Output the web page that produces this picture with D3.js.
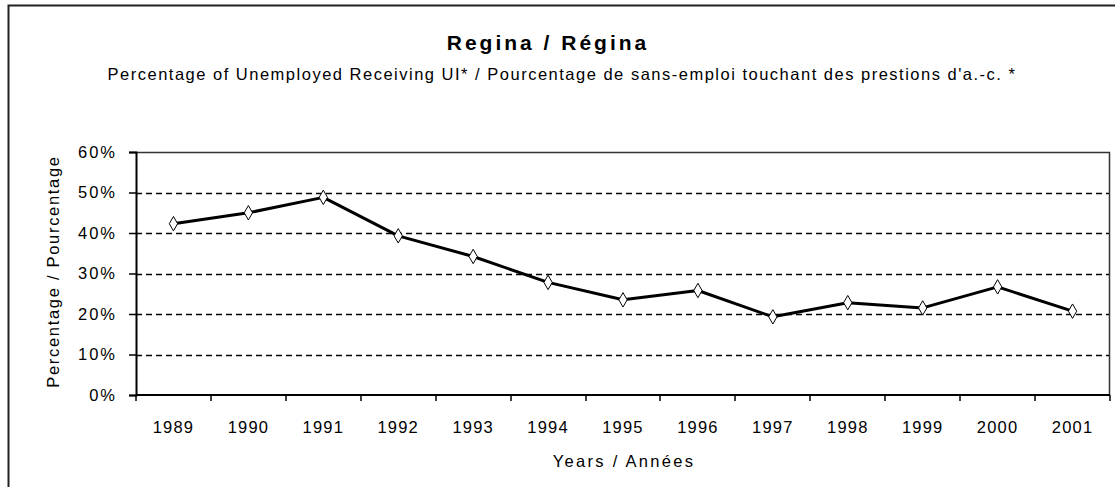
<!DOCTYPE html>
<html><head><meta charset="utf-8">
<script src="https://cdn.jsdelivr.net/npm/d3@7"></script>
<style>body{margin:0;background:#fff;} svg{display:block;font-family:Arial,"Liberation Sans",sans-serif;}</style>
</head><body>
<svg id="c" width="1115" height="487"></svg>
<script>
const years = ["1989","1990","1991","1992","1993","1994","1995","1996","1997","1998","1999","2000","2001"];
const values = [42.3, 45.0, 48.8, 39.3, 34.2, 27.8, 23.5, 25.8, 19.3, 22.8, 21.5, 26.7, 20.7];
const yTicks = [0, 10, 20, 30, 40, 50, 60];
const titleText = "Regina / Régina";
const subtitleText = "Percentage of Unemployed Receiving UI* / Pourcentage de sans-emploi touchant des prestions d'a.-c. *";
const yTitle = "Percentage / Pourcentage";
const xTitle = "Years / Années";

const svg = d3.select("#c");
const m = {left:136, right:1110, top:152, bottom:395};
const FS = 16.5;

// outer frame
svg.append("path").attr("d","M8.5,487 V5.5 H1115").attr("fill","none").attr("stroke","#222").attr("stroke-width",2);

const x = d3.scaleBand().domain(years).range([m.left, m.right]);
const y = d3.scaleLinear().domain([0,60]).range([m.bottom, m.top]);

// gridlines
svg.append("g").selectAll("line").data(yTicks.filter(t=>t>0 && t<60)).join("line")
  .attr("x1", m.left).attr("x2", m.right)
  .attr("y1", d=>Math.round(y(d))+0.5).attr("y2", d=>Math.round(y(d))+0.5)
  .attr("stroke","#000").attr("stroke-width",1.3).attr("stroke-dasharray","6,4");

// plot border (top and right)
svg.append("path").attr("d",`M${m.left},${m.top+0.5} H${m.right-0.5} V${m.bottom}`)
  .attr("fill","none").attr("stroke","#333").attr("stroke-width",1.5);

// y axis
const yAxis = d3.axisLeft(y).tickValues(yTicks).tickFormat(d=>d+"%").tickSize(7).tickPadding(12);
const gy = svg.append("g").attr("transform",`translate(${m.left},0)`).call(yAxis);
gy.select(".domain").attr("stroke","#000").attr("stroke-width",2);
gy.selectAll(".tick line").attr("stroke","#000").attr("stroke-width",1.5);
gy.selectAll("text").attr("font-size",FS).attr("fill","#000").attr("letter-spacing","2px");

// x axis with ticks between categories
const gx = svg.append("g").attr("transform",`translate(0,${m.bottom})`);
gx.append("line").attr("x1",m.left).attr("x2",m.right).attr("y1",0).attr("y2",0).attr("stroke","#000").attr("stroke-width",2);
const bounds = years.map(yr=>x(yr)).concat([m.right]);
gx.selectAll("line.tk").data(bounds).join("line").attr("class","tk")
  .attr("x1",d=>Math.round(d)).attr("x2",d=>Math.round(d)).attr("y1",0).attr("y2",6)
  .attr("stroke","#000").attr("stroke-width",1.5);
gx.selectAll("text").data(years).join("text")
  .attr("x",d=>x(d)+x.bandwidth()/2).attr("y",38).attr("text-anchor","middle")
  .attr("font-size",FS).attr("letter-spacing","1.2px").attr("fill","#000").text(d=>d);

// line
const cx = d=>x(d)+x.bandwidth()/2;
const line = d3.line().x((d,i)=>cx(years[i])).y(d=>y(d));
svg.append("path").datum(values).attr("d",line).attr("fill","none").attr("stroke","#000").attr("stroke-width",3).attr("stroke-linejoin","round");

// markers
const sym = d3.symbol().type(d3.symbolDiamond).size(60);
svg.append("g").selectAll("path").data(values).join("path")
  .attr("transform",(d,i)=>`translate(${cx(years[i])},${y(d)})`)
  .attr("d",sym).attr("fill","#fff").attr("stroke","#000").attr("stroke-width",1);

// titles
svg.append("text").attr("x",548).attr("y",50).attr("text-anchor","middle")
  .attr("font-size",21).attr("font-weight","bold").attr("letter-spacing","3px").text(titleText);
svg.append("text").attr("x",562).attr("y",80).attr("text-anchor","middle")
  .attr("font-size",FS).attr("letter-spacing","1.5px").text(subtitleText);
svg.append("text").attr("x",(m.left+m.right)/2+1).attr("y",467).attr("text-anchor","middle")
  .attr("font-size",FS).attr("letter-spacing","2.3px").text(xTitle);
svg.append("text").attr("transform",`translate(59,${(m.top+m.bottom)/2-2}) rotate(-90)`).attr("text-anchor","middle")
  .attr("font-size",FS).attr("letter-spacing","1.7px").text(yTitle);
</script>
</body></html>
